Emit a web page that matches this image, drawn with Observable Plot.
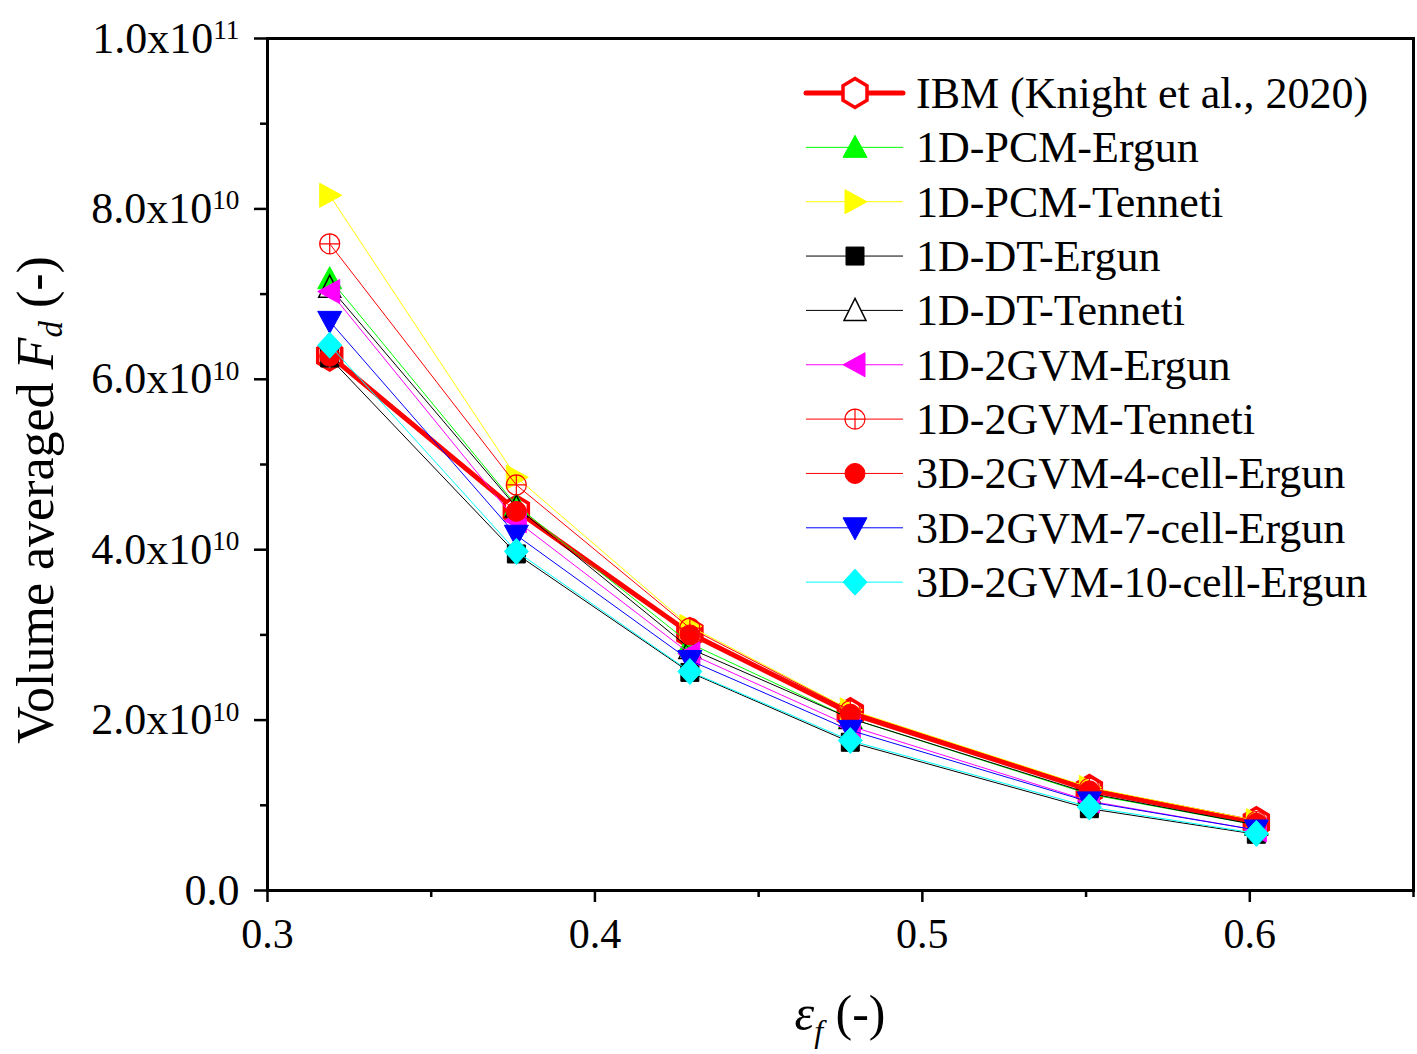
<!DOCTYPE html>
<html><head><meta charset="utf-8">
<script src="https://cdn.jsdelivr.net/npm/d3@7"></script>
<script src="https://cdn.jsdelivr.net/npm/@observablehq/plot@0.6"></script>
<style>body{margin:0;background:#fff}#chart svg{display:block}</style>
</head><body><div id="chart"></div>
<script>
// ---- data ----
const epsF = [0.319, 0.376, 0.429, 0.478, 0.551, 0.602];
const seriesNames = ["IBM (Knight et al., 2020)", "1D-PCM-Ergun", "1D-PCM-Tenneti", "1D-DT-Ergun", "1D-DT-Tenneti",
  "1D-2GVM-Ergun", "1D-2GVM-Tenneti", "3D-2GVM-4-cell-Ergun", "3D-2GVM-7-cell-Ergun", "3D-2GVM-10-cell-Ergun"];
const ibm          = [6.28e10, 4.46e10, 3.02e10, 2.08e10, 1.18e10, 0.80e10];
const pcmErgun     = [7.18e10, 4.52e10, 2.90e10, 2.02e10, 1.13e10, 0.77e10];
const pcmTenneti   = [8.16e10, 4.85e10, 3.10e10, 2.12e10, 1.21e10, 0.82e10];
const dtErgun      = [6.25e10, 3.95e10, 2.56e10, 1.74e10, 0.96e10, 0.66e10];
const dtTenneti    = [7.08e10, 4.50e10, 2.84e10, 2.02e10, 1.14e10, 0.77e10];
const gvm1Ergun    = [7.03e10, 4.34e10, 2.78e10, 1.93e10, 1.05e10, 0.71e10];
const gvm1Tenneti  = [7.59e10, 4.76e10, 3.08e10, 2.11e10, 1.20e10, 0.81e10];
const gvm3Cell4    = [6.27e10, 4.45e10, 3.00e10, 2.07e10, 1.17e10, 0.79e10];
const gvm3Cell7    = [6.68e10, 4.17e10, 2.70e10, 1.88e10, 1.04e10, 0.71e10];
const gvm3Cell10   = [6.40e10, 3.98e10, 2.57e10, 1.76e10, 0.98e10, 0.67e10];
const seriesValues = [ibm, pcmErgun, pcmTenneti, dtErgun, dtTenneti, gvm1Ergun, gvm1Tenneti, gvm3Cell4, gvm3Cell7, gvm3Cell10];
const seriesColors = ["#ff0000", "#00ff00", "#ffff00", "#000000", "#000000", "#ff00ff", "#ff0000", "#ff0000", "#0000ff", "#00ffff"];
const seriesSymbols = ["hexagon", "triUp", "triRight", "square", "triUpOpen", "triLeft", "circleCross", "circle", "triDown", "diamond"];
const yTicks = [0, 2e10, 4e10, 6e10, 8e10, 1e11];
const yMinor = [1e10, 3e10, 5e10, 7e10, 9e10];
const xTicks = [0.3, 0.4, 0.5, 0.6];
const xMinor = [0.35, 0.45, 0.55, 0.65];

// ---- symbols ----
function sym(fn) { return {draw(ctx, size) { const s = Math.sqrt(size / Math.PI) / 10; fn(ctx, s); }}; }
function poly(ctx, pts) { ctx.moveTo(pts[0][0], pts[0][1]); for (let i = 1; i < pts.length; i++) ctx.lineTo(pts[i][0], pts[i][1]); ctx.closePath(); }
const symbolDefs = {
  hexagon: sym((c, s) => { const rx = 12 * s, ry = 14.5 * s; poly(c, [[0, -ry], [rx, -ry / 2], [rx, ry / 2], [0, ry], [-rx, ry / 2], [-rx, -ry / 2]]); }),
  triUp: sym((c, s) => poly(c, [[0, -12 * s], [12 * s, 10 * s], [-12 * s, 10 * s]])),
  triUpOpen: sym((c, s) => poly(c, [[0, -12 * s], [11 * s, 10 * s], [-11 * s, 10 * s]])),
  triDown: sym((c, s) => poly(c, [[0, 12 * s], [12 * s, -10 * s], [-12 * s, -10 * s]])),
  triRight: sym((c, s) => poly(c, [[12 * s, 0], [-10 * s, -12 * s], [-10 * s, 12 * s]])),
  triLeft: sym((c, s) => poly(c, [[-12 * s, 0], [10 * s, -12 * s], [10 * s, 12 * s]])),
  square: sym((c, s) => poly(c, [[-9 * s, -9 * s], [9 * s, -9 * s], [9 * s, 9 * s], [-9 * s, 9 * s]])),
  diamond: sym((c, s) => poly(c, [[0, -13 * s], [12 * s, 0], [0, 13 * s], [-12 * s, 0]])),
  circle: sym((c, s) => { const r = 10 * s; c.moveTo(r, 0); c.arc(0, 0, r, 0, 2 * Math.PI); c.closePath(); }),
  circleCross: sym((c, s) => { const r = 10 * s; c.moveTo(r, 0); c.arc(0, 0, r, 0, 2 * Math.PI); c.closePath();
    c.moveTo(-r, 0); c.lineTo(r, 0); c.moveTo(0, -r); c.lineTo(0, r); })
};
function symStyle(i) {
  const k = seriesSymbols[i], col = seriesColors[i];
  if (k === "hexagon") return {fill: "white", stroke: col, strokeWidth: 3.5};
  if (k === "triUpOpen") return {fill: "none", stroke: col, strokeWidth: 1.5};
  if (k === "circleCross") return {fill: "none", stroke: col, strokeWidth: 1.2};
  return {fill: col, stroke: col, strokeWidth: 1};
}

const FONT = "'Liberation Serif', 'Times New Roman', serif";
const marks = [];
seriesValues.forEach((vals, i) => {
  const data = epsF.map((x, j) => ({x, y: vals[j]}));
  marks.push(Plot.line(data, {x: "x", y: "y", stroke: seriesColors[i], strokeWidth: i === 0 ? 5 : 1}));
  marks.push(Plot.dot(data, {x: "x", y: "y", symbol: symbolDefs[seriesSymbols[i]], r: 10, ...symStyle(i)}));
});

const chart = Plot.plot({
  width: 1417, height: 1054,
  marginLeft: 267, marginRight: 4, marginTop: 38, marginBottom: 164,
  style: {fontFamily: FONT, background: "white", color: "black"},
  x: {domain: [0.3, 0.65]},
  y: {domain: [0, 1e11]},
  marks: [
    ...marks,
    Plot.frame({stroke: "black", strokeWidth: 3}),
    Plot.axisX({ticks: xTicks, tickSize: 12, tickPadding: 16, strokeWidth: 2.5, fontSize: 42, label: null,
      tickFormat: d3.format(".1f")}),
    Plot.axisX({ticks: xMinor, tickSize: 7, strokeWidth: 2.5, label: null, tickFormat: () => ""}),
    Plot.axisY({ticks: yTicks, tickSize: 13, tickPadding: 15, strokeWidth: 2.5, fontSize: 44, label: null,
      tickFormat: d => d === 0 ? "0.0" : (d / Math.pow(10, Math.floor(Math.log10(d)))).toFixed(1) + "x10^" + Math.floor(Math.log10(d))}),
    Plot.axisY({ticks: yMinor, tickSize: 7, strokeWidth: 2.5, label: null, tickFormat: () => ""})
  ]
});
document.getElementById("chart").appendChild(chart);

const svg = d3.select(chart);
// superscripts on y tick labels
svg.selectAll("text").each(function () {
  const t = this.textContent;
  if (t.includes("^")) {
    const [b, e] = t.split("^");
    const sel = d3.select(this);
    sel.text(b);
    sel.append("tspan").attr("dy", "-0.5em").attr("font-size", "0.62em").text(e);
  }
});

// axis titles
const yt = svg.append("text").attr("transform", "translate(53,500) rotate(-90)")
  .attr("text-anchor", "middle").attr("font-family", FONT).attr("font-size", 52).attr("fill", "black");
yt.append("tspan").text("Volume averaged ");
yt.append("tspan").attr("font-style", "italic").text("F");
yt.append("tspan").attr("font-style", "italic").attr("font-size", 33).attr("dy", 9).text("d");
yt.append("tspan").attr("dy", -9).text(" (-)");

const xt = svg.append("text").attr("x", 840).attr("y", 1030)
  .attr("text-anchor", "middle").attr("font-family", FONT).attr("font-size", 50).attr("fill", "black");
xt.append("tspan").attr("font-style", "italic").text("ε");
xt.append("tspan").attr("font-style", "italic").attr("font-size", 32).attr("dy", 12).text("f");
xt.append("tspan").attr("dy", -12).text(" (-)");

// legend
const lg = svg.append("g").attr("text-anchor", "start");
seriesNames.forEach((name, i) => {
  const cy = 93 + i * 54.35;
  lg.append("line").attr("x1", 806).attr("x2", 903).attr("y1", cy).attr("y2", cy)
    .attr("stroke", seriesColors[i]).attr("stroke-width", i === 0 ? 5 : 1)
    .attr("stroke-linecap", i === 0 ? "round" : "butt");
  const st = symStyle(i);
  lg.append("path").attr("transform", `translate(855,${cy})`)
    .attr("d", d3.symbol().type(symbolDefs[seriesSymbols[i]]).size(100 * Math.PI)())
    .attr("fill", st.fill === "none" ? "white" : st.fill).attr("stroke", st.stroke).attr("stroke-width", st.strokeWidth);
  lg.append("text").attr("x", 916).attr("y", cy + 15).attr("text-anchor", "start").attr("font-family", FONT).attr("font-size", 44)
    .attr("fill", "black").text(name);
});
</script></body></html>
